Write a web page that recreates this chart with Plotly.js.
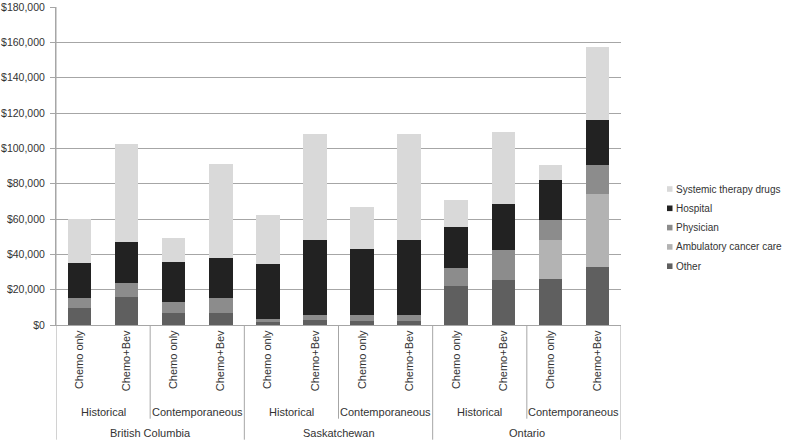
<!DOCTYPE html>
<html>
<head>
<meta charset="utf-8">
<script src="https://cdn.plot.ly/plotly-3.0.1.min.js"></script>
<style>html,body{margin:0;padding:0;background:#fff}#chart{width:786px;height:443px}</style>
</head>
<body>
<div id="chart"></div>
<script>
// Bars, left to right
const treatments = ["Chemo only","Chemo+Bev","Chemo only","Chemo+Bev","Chemo only","Chemo+Bev","Chemo only","Chemo+Bev","Chemo only","Chemo+Bev","Chemo only","Chemo+Bev"];
const cohorts = ["Historical","Contemporaneous","Historical","Contemporaneous","Historical","Contemporaneous"];
const provinces = ["British Columbia","Saskatchewan","Ontario"];

// Cost components (CAD)
const other      = [9600,15600,7000,7000,1900,2600,2300,2400,22200,25600,26000,33000];
const ambulatory = [0,0,0,0,0,0,0,0,0,0,21900,40900];
const physician  = [5900,8300,6000,8300,1700,3100,3400,3400,10200,17000,11300,16400];
const hospital   = [19600,23100,22400,22600,30900,42400,37100,42500,23100,25700,22700,25700];
const systemic   = [24900,55400,14000,53000,27500,60000,24200,59600,15400,40700,8800,41100];

const seriesNames = ["Other","Ambulatory cancer care","Physician","Hospital","Systemic therapy drugs"];
const seriesData = [other, ambulatory, physician, hospital, systemic];
const colors = ["#5f5f5f","#b3b3b3","#8c8c8c","#222222","#d9d9d9"];

const xIdx = treatments.map((_, i) => i);
const traces = seriesNames.map((n, k) => ({
  type: "bar", name: n, x: xIdx, y: seriesData[k],
  marker: {color: colors[k], line: {width: 0}},
  width: 0.5, hoverinfo: "y+name", showlegend: false
}));

const plotL = 56, plotW = 565;
const pyToPaper = py => (325.3 - py) / 318;
const pxToPaper = px => (px - plotL) / plotW;
const lineColor = "#a6a6a6";
const textColor = "#333";
const fs = 11;
const shapes = [];
const annotations = [];
// cohort dividers (2nd level) and province dividers (3rd level)
[1.5, 5.5, 9.5].forEach(x => shapes.push({type:"line", xref:"x", yref:"paper", x0:x, x1:x, y0:0, y1:pyToPaper(419), line:{color:lineColor, width:1}}));
[-0.5, 3.5, 7.5, 11.5].forEach(x => shapes.push({type:"line", xref:"x", yref:"paper", x0:x, x1:x, y0:(x===-0.5?1:0), y1:pyToPaper(440), line:{color:lineColor, width:1}}));
cohorts.forEach((c, i) => annotations.push({xref:"x", yref:"paper", x:2*i+0.5, y:pyToPaper(412), text:c, showarrow:false, xanchor:"center", yanchor:"middle", font:{size:fs, color:textColor}}));
provinces.forEach((p, i) => annotations.push({xref:"x", yref:"paper", x:4*i+1.5, y:pyToPaper(433), text:p, showarrow:false, xanchor:"center", yanchor:"middle", font:{size:fs, color:textColor}}));

// legend (top item = last series)
const legendY = [189.3, 208.6, 227.9, 247.2, 266.5];
for (let k = 0; k < seriesNames.length; k++) {
  const idx = seriesNames.length - 1 - k;
  const cy = legendY[k];
  shapes.push({type:"rect", xref:"paper", yref:"paper", x0:pxToPaper(667), x1:pxToPaper(672.5), y0:pyToPaper(cy-2.8), y1:pyToPaper(cy+2.8), fillcolor:colors[idx], line:{width:0}});
  annotations.push({xref:"paper", yref:"paper", x:pxToPaper(673.5), y:pyToPaper(cy), text:seriesNames[idx], showarrow:false, xanchor:"left", yanchor:"middle", font:{size:10, color:textColor}});
}

const layout = {
  width: 786, height: 443,
  margin: {l: 56, r: 165, t: 7, b: 118, pad: 0},
  barmode: "stack",
  paper_bgcolor: "#fff", plot_bgcolor: "#fff",
  font: {family: "Liberation Sans, Arial, sans-serif", size: fs, color: textColor},
  showlegend: false,
  xaxis: {
    type: "linear", range: [-0.5, 11.5], tickmode: "array", tickvals: xIdx, ticktext: treatments,
    tickangle: -90, ticks: "", showgrid: false, zeroline: false, showline: true, linecolor: lineColor, linewidth: 1,
    tickfont: {size: fs, color: textColor}, fixedrange: true
  },
  yaxis: {
    range: [0, 180000], dtick: 20000, tickformat: "$,.0f", ticks: "outside", ticklen: 5, tickcolor: lineColor,
    ticklabelstandoff: 3,
    showgrid: true, gridcolor: lineColor, gridwidth: 1, zeroline: false, showline: true, linecolor: lineColor,
    tickfont: {size: 10.5, color: textColor}, fixedrange: true
  },
  shapes: shapes, annotations: annotations
};
Plotly.newPlot("chart", traces, layout, {displayModeBar: false, staticPlot: true});
</script>
</body>
</html>
